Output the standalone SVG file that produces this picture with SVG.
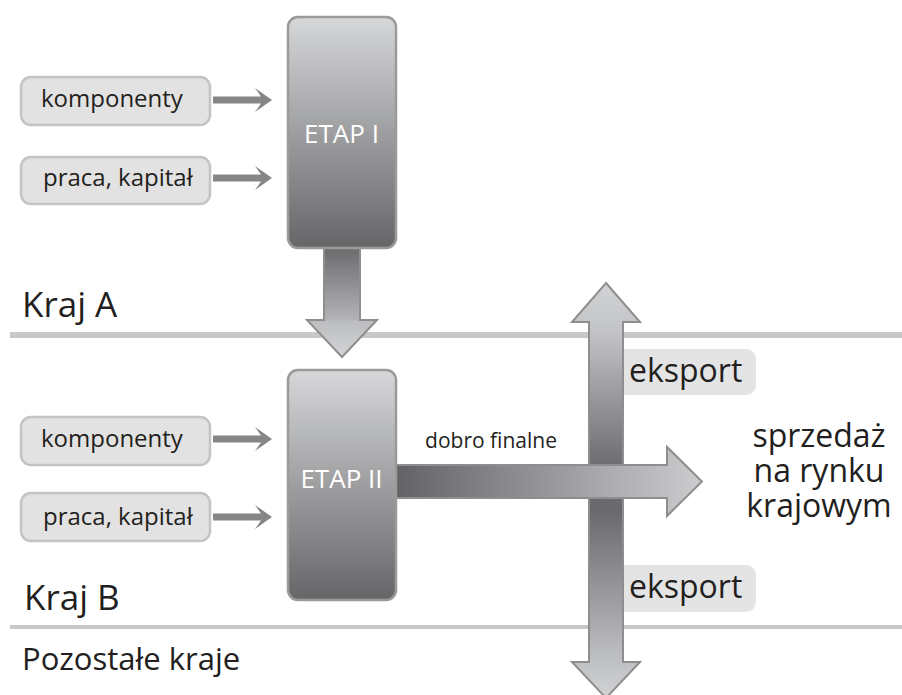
<svg xmlns="http://www.w3.org/2000/svg" width="902" height="695" viewBox="0 0 902 695">
<defs>
<style>
text{font-family:"Open Sans","Liberation Sans",sans-serif;fill:#231f20}
.in{fill:#e2e2e2;stroke:#c4c4c4;stroke-width:2.5}
.stage{fill:url(#gStage);stroke:#9a9a9a;stroke-width:2.5}
.small{fill:#868688}
.exp{fill:#e4e4e4}
.sep{stroke:#c8c8c8}
</style>
<linearGradient id="gStage" x1="0" y1="0" x2="0" y2="1">
<stop offset="0" stop-color="#d6d7d9"/>
<stop offset="1" stop-color="#666668"/>
</linearGradient>
<linearGradient id="gDown" gradientUnits="userSpaceOnUse" x1="0" y1="248" x2="0" y2="357">
<stop offset="0" stop-color="#6b6b6d"/>
<stop offset="0.66" stop-color="#b3b4b6"/>
<stop offset="0.67" stop-color="#bcbdbf"/>
<stop offset="1" stop-color="#d4d5d7"/>
</linearGradient>
<linearGradient id="gVert" gradientUnits="userSpaceOnUse" x1="0" y1="283" x2="0" y2="698">
<stop offset="0" stop-color="#d2d3d5"/>
<stop offset="0.12" stop-color="#c2c3c5"/>
<stop offset="0.45" stop-color="#6a6a6c"/>
<stop offset="0.55" stop-color="#6a6a6c"/>
<stop offset="0.9" stop-color="#bdbec0"/>
<stop offset="1" stop-color="#d2d3d5"/>
</linearGradient>
<linearGradient id="gHor" gradientUnits="userSpaceOnUse" x1="396" y1="0" x2="702" y2="0">
<stop offset="0" stop-color="#636365"/>
<stop offset="1" stop-color="#cbccce"/>
</linearGradient>
</defs>

<line class="sep" x1="10" y1="335" x2="902" y2="335" stroke-width="6"/>
<line class="sep" x1="10" y1="627" x2="902" y2="627" stroke-width="4"/>

<text x="22" y="317" font-size="35">Kraj A</text>
<text x="24" y="610" font-size="35">Kraj B</text>
<text x="22" y="670" font-size="31">Pozostałe kraje</text>

<g id="in-a-komponenty">
<rect class="in" x="21" y="77" width="189" height="48" rx="10"/>
<text x="41" y="107" font-size="24">komponenty</text>
</g>
<g id="in-a-praca">
<rect class="in" x="21" y="157" width="189" height="47" rx="10"/>
<text x="43" y="186" font-size="24">praca, kapitał</text>
</g>
<g id="in-b-komponenty">
<rect class="in" x="21" y="417" width="189" height="48" rx="10"/>
<text x="41" y="447" font-size="24">komponenty</text>
</g>
<g id="in-b-praca">
<rect class="in" x="21" y="493" width="189" height="48" rx="10"/>
<text x="43" y="525" font-size="24">praca, kapitał</text>
</g>

<g id="eksport-1">
<rect class="exp" x="612" y="349" width="144" height="46" rx="10"/>
<text x="629" y="382" font-size="32">eksport</text>
</g>
<g id="eksport-2">
<rect class="exp" x="612" y="565" width="144" height="47" rx="10"/>
<text x="629" y="598" font-size="32">eksport</text>
</g>

<g id="connectors">
<polygon class="small" points="213,96.5 261,96.5 255,88 272,100 255,112 261,103.5 213,103.5"/>
<polygon class="small" points="213,174.5 261,174.5 255,166 272,178 255,190 261,181.5 213,181.5"/>
<polygon class="small" points="213,435.5 261,435.5 255,427 272,439 255,451 261,442.5 213,442.5"/>
<polygon class="small" points="213,513.5 261,513.5 255,505 272,517 255,529 261,520.5 213,520.5"/>
<polygon points="324,248 360,248 360,320 377,320 342,357 307,320 324,320" fill="url(#gDown)" stroke="#8e8e90" stroke-width="2"/>
<polygon points="606,283 640,322 623,322 623,662 640,662 606,698 572,662 589,662 589,322 572,322" fill="url(#gVert)" stroke="#8e8e90" stroke-width="2"/>
<polygon points="396,465 667,465 667,447 702,481.5 667,516 667,498 396,498" fill="url(#gHor)" stroke="#8e8e90" stroke-width="2"/>
</g>

<g id="etap-1">
<rect class="stage" x="288" y="17" width="108" height="231" rx="10"/>
<text x="341.5" y="143" font-size="26" text-anchor="middle" style="fill:#fff">ETAP I</text>
</g>
<g id="etap-2">
<rect class="stage" x="288" y="370" width="108" height="230" rx="10"/>
<text x="341.5" y="488" font-size="26" text-anchor="middle" style="fill:#fff">ETAP II</text>
</g>

<text x="491" y="448" font-size="21" text-anchor="middle">dobro finalne</text>

<g id="sprzedaz">
<text x="819" y="447" font-size="32" text-anchor="middle">sprzedaż</text>
<text x="819" y="482" font-size="32" text-anchor="middle">na rynku</text>
<text x="819" y="517" font-size="32" text-anchor="middle">krajowym</text>
</g>
</svg>
